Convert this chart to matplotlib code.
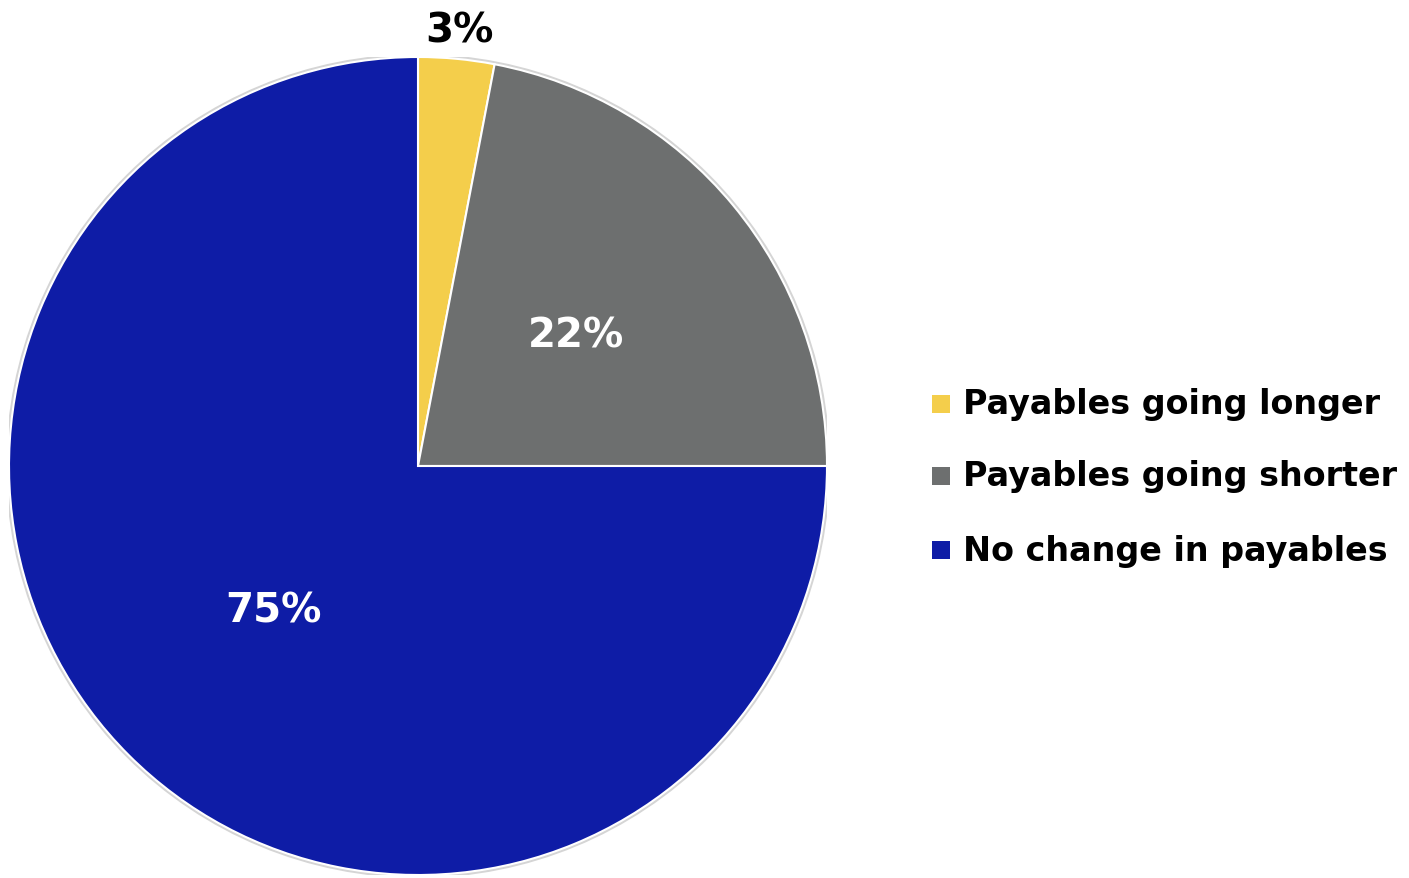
import matplotlib
matplotlib.use("Agg")
import matplotlib.pyplot as plt
import numpy as np
from matplotlib.patches import Rectangle, Circle

labels = ["Payables going longer", "Payables going shorter", "No change in payables"]
values = [3, 22, 75]
colors = ["#F4CE4B", "#6D6F6F", "#0E1CA6"]
pct_labels = ["3%", "22%", "75%"]
label_colors = ["black", "white", "white"]
label_radii = [1.07, 0.5, 0.5]

W, H = 1409, 879
fig = plt.figure(figsize=(W / 100, H / 100), dpi=100)
fig.patch.set_facecolor("white")

cx, cy, R = 418, 879 - 467, 409
ax = fig.add_axes([(cx - R) / W, (cy - R) / H, 2 * R / W, 2 * R / H])
ax.set_xlim(-1, 1)
ax.set_ylim(-1, 1)
ax.set_aspect("equal")
ax.axis("off")

ax.add_patch(Circle((0, 0), 1.004, facecolor="none", edgecolor="#D5D5D5", lw=2.0, zorder=0))
wedges, _ = ax.pie(values, colors=colors, startangle=90, counterclock=False, radius=1.0,
                   wedgeprops=dict(edgecolor="white", linewidth=1.5))
ax.set_xlim(-1, 1)
ax.set_ylim(-1, 1)

fam = ["DejaVu Sans"]
for w, t, c, r in zip(wedges, pct_labels, label_colors, label_radii):
    ang = np.deg2rad((w.theta1 + w.theta2) / 2)
    ax.text(r * np.cos(ang), r * np.sin(ang), t, ha="center", va="center",
            color=c, fontsize=29, fontweight="bold", family=fam, clip_on=False)

ys = [405, 477, 551]
for lab, col, y in zip(labels, colors, ys):
    fig.patches.append(Rectangle(((932) / W, (879 - y - 9) / H), 18 / W, 18 / H,
                                 transform=fig.transFigure, facecolor=col, edgecolor="none"))
    fig.text(963 / W, (879 - y) / H, lab, ha="left", va="center", fontsize=24,
             fontweight="bold", family=fam, color="black")

fig.savefig("out.png", dpi=100, facecolor="white")
